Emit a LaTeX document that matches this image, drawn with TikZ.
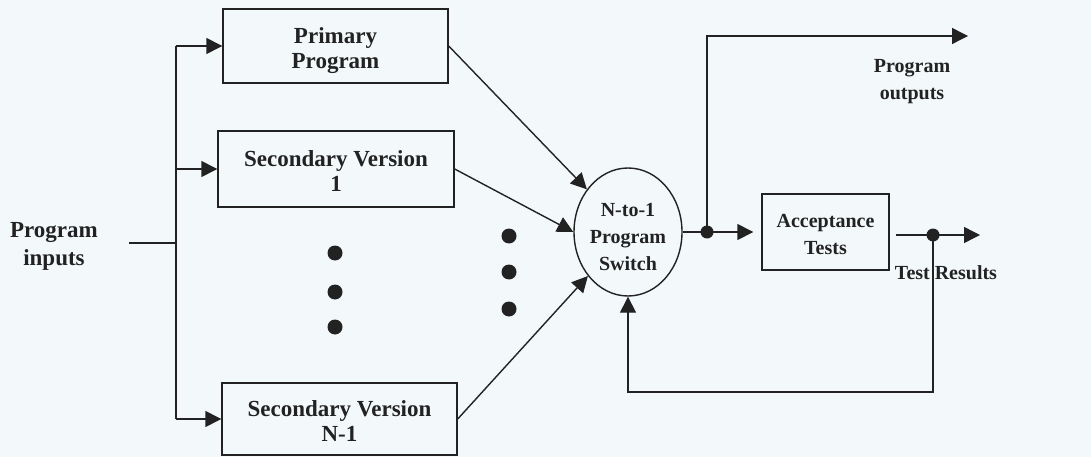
\documentclass[tikz,border=0pt]{standalone}
\usepackage{fontspec}
\setmainfont{Liberation Serif}
\usetikzlibrary{arrows.meta,shapes.geometric}
\definecolor{paper}{HTML}{F3F9FB}
\definecolor{ink}{HTML}{222222}
\newcommand\lefttxt{\fontsize{23}{25}\selectfont\bfseries}
\newcommand\righttxt{\fontsize{20}{27}\selectfont\bfseries}
\begin{document}
\begin{tikzpicture}[x=1pt,y=-1pt,
  line width=1.4pt, draw=ink, text=ink,
  arr/.style={-{Triangle[length=16pt,width=16pt]}},
  box/.style={draw, rectangle, align=center, inner sep=0pt, font=\lefttxt,
              text height=49pt, text depth=4pt},
  label/.style={align=center, inner sep=0pt, anchor=base},
  dot/.style={circle, fill=ink, draw=none, minimum size=15pt, inner sep=0pt},
  sdot/.style={circle, fill=ink, draw=none, minimum size=13pt, inner sep=0pt}]
  \fill[paper] (0,0) rectangle (1091,457);
  \useasboundingbox (0,0) rectangle (1091,457);

  % version boxes
  \node[box, minimum width=225pt, minimum height=74pt] (prim) at (335.5,46) {Primary\\Program};
  \node[box, minimum width=236pt, minimum height=76pt] (sec1) at (336,169) {Secondary Version\\1};
  \node[box, minimum width=235pt, minimum height=72pt] (secn) at (339.5,419) {Secondary Version\\N-1};

  % switch and acceptance tests
  \node[draw, ellipse, minimum width=108pt, minimum height=128pt, inner sep=0pt,
        align=center, font=\righttxt, text height=80pt, text depth=4pt]
        (sw) at (628,232) {N-to-1\\Program\\Switch};
  \node[box, font=\righttxt, text height=48pt, text depth=4pt,
        minimum width=127pt, minimum height=76pt] (acc) at (825.5,232) {Acceptance\\Tests};

  % labels
  \node[label, font=\fontsize{23}{28}\selectfont\bfseries] (inlab) at (54,265) {Program\\inputs};
  \node[label, font=\righttxt] (outlab) at (912,100) {Program\\outputs};
  \node[label, font=\righttxt] (reslab) at (946,279) {Test Results};

  % ellipsis dots
  \node[dot] (d1) at (335,253) {};
  \node[dot] (d2) at (335,292) {};
  \node[dot] (d3) at (335,327) {};
  \node[dot] (m1) at (509,236) {};
  \node[dot] (m2) at (509,272) {};
  \node[dot] (m3) at (509,309) {};

  % input fan-out
  \coordinate (in) at (129,243);
  \coordinate (tin) at (176,243);
  \coordinate (t1) at (176,46);
  \coordinate (t2) at (176,169);
  \coordinate (t3) at (176,419);
  \draw (in) -- (tin);
  \draw (t1) -- (t3);
  \draw[arr] (t1) -- (prim.west);
  \draw[arr] (t2) -- (sec1.west);
  \draw[arr] (t3) -- (secn.west);

  % versions into the switch
  \draw[arr] (prim.east) -- (sw);
  \draw[arr] (sec1.east) -- (sw.west);
  \draw[arr] (secn.east) -- (sw);

  % switch outputs
  \node[sdot] (j1) at (707,232) {};
  \coordinate (outEnd) at (968,36);
  \draw (sw.east) -- (j1.center);
  \draw[arr, shorten >=8pt] (j1.center) -- (acc.west);
  \draw[arr] (j1.center) |- (outEnd);

  % test results and feedback
  \node[sdot] (j2) at (933,235) {};
  \coordinate (resEnd) at (980,235);
  \coordinate (fb) at (933,392);
  \draw[arr, shorten <=6pt] (acc.east |- j2) -- (resEnd);
  \draw[arr] (j2.center) -- (fb) -| (sw.south);
\end{tikzpicture}
\end{document}
